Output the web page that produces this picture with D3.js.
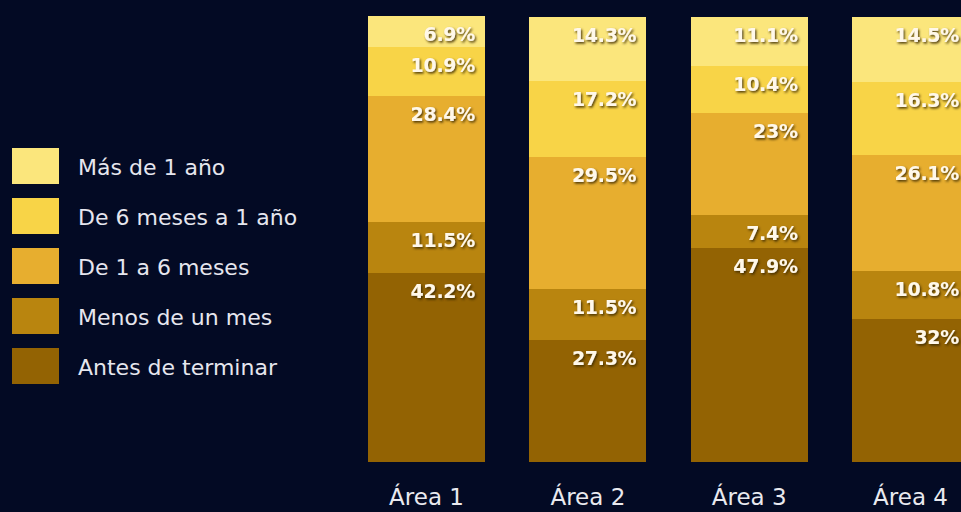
<!DOCTYPE html>
<html><head><meta charset="utf-8">
<script src="https://cdn.jsdelivr.net/npm/d3@7"></script>
<style>
html,body{margin:0;padding:0;background:#030a24;overflow:hidden}
svg{display:block}
</style></head>
<body><svg id="chart" width="961" height="512"></svg>
<script>
const categories = ["Área 1", "Área 2", "Área 3", "Área 4"];
const seriesNames = ["Antes de terminar", "Menos de un mes", "De 1 a 6 meses", "De 6 meses a 1 año", "Más de 1 año"];
const antes   = [42.2, 27.3, 47.9, 32];
const menos   = [11.5, 11.5, 7.4, 10.8];
const de1a6   = [28.4, 29.5, 23, 26.1];
const de6a1   = [10.9, 17.2, 10.4, 16.3];
const masDe1  = [6.9, 14.3, 11.1, 14.5];
const colors  = ["#936303", "#b9850f", "#e7ae2f", "#f8d447", "#fbe67c"];

const seriesValues = [antes, menos, de1a6, de6a1, masDe1];
const rows = categories.map((c, i) => {
  const r = {cat: c};
  seriesNames.forEach((s, j) => r[s] = seriesValues[j][i]);
  return r;
});
const stack = d3.stack().keys(seriesNames)(rows);

const svg = d3.select("#chart");
const x = d3.scaleBand().domain(categories).range([368, 969]).paddingInner(0.275).paddingOuter(0);
const y = d3.scaleLinear().domain([0, 100]).range([461.5, 16]);
const color = d3.scaleOrdinal().domain(seriesNames).range(colors);

const defs = svg.append("defs");
const f = defs.append("filter").attr("id","sh").attr("x","-20%").attr("y","-20%").attr("width","140%").attr("height","160%");
f.append("feDropShadow").attr("dx",1.3).attr("dy",1.6).attr("stdDeviation",0.9).attr("flood-color","#3a2600").attr("flood-opacity",0.9);

const g = svg.append("g");
stack.forEach(layer => {
  g.selectAll(null).data(layer).enter().append("rect")
    .attr("x", d => x(d.data.cat))
    .attr("width", x.bandwidth())
    .attr("y", d => y(d[1]))
    .attr("height", d => y(d[0]) - y(d[1]))
    .attr("shape-rendering", "crispEdges")
    .attr("fill", color(layer.key));
});
stack.forEach(layer => {
  g.selectAll(null).data(layer).enter().append("text")
    .attr("x", d => x(d.data.cat) + x.bandwidth() - 10)
    .attr("y", d => y(d[1]) + 25)
    .attr("text-anchor", "end")
    .attr("font-family", "'DejaVu Sans', sans-serif")
    .attr("font-weight", "bold")
    .attr("font-size", 19)
    .attr("letter-spacing", -0.3)
    .attr("fill", "#fff8ea")
    .attr("filter", "url(#sh)")
    .text(d => (d[1] - d[0]).toFixed(1).replace(/\.0$/, "") + "%");
});

// category axis
const ax = svg.append("g").attr("transform", "translate(0,505)")
  .call(d3.axisBottom(x).tickSize(0).tickPadding(0));
ax.select(".domain").remove();
ax.selectAll("text")
  .attr("font-family", "'DejaVu Sans', sans-serif")
  .attr("font-size", 23)
  .attr("fill", "#e9e9ef")
  .attr("dy", 0);

// legend
const legendOrder = seriesNames.slice().reverse();
const lg = svg.append("g");
const ly = d3.scaleBand().domain(legendOrder).range([148, 398]);
legendOrder.forEach(s => {
  lg.append("rect").attr("x", 12).attr("y", ly(s)).attr("width", 47).attr("height", 36).attr("fill", color(s));
  lg.append("text").attr("x", 78).attr("y", ly(s) + 27)
    .attr("font-family", "'DejaVu Sans', sans-serif")
    .attr("font-size", 22)
    .attr("fill", "#e6e6ee")
    .text(s);
});
</script></body></html>
